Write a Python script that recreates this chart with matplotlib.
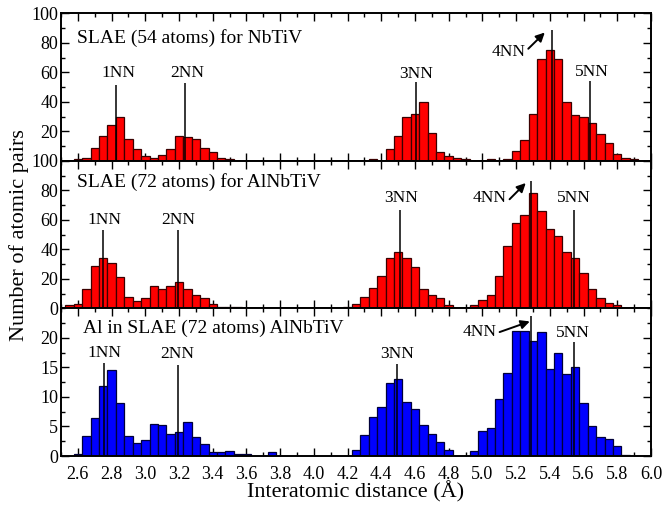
import numpy as np
import matplotlib
matplotlib.use('Agg')
import matplotlib.pyplot as plt
from matplotlib.ticker import MultipleLocator

plt.rcParams['font.family'] = 'serif'
plt.rcParams['font.serif'] = ['Liberation Serif', 'DejaVu Serif']

# bin centres of the histograms (0.05 A wide bins)
bin_centers = np.round(np.arange(2.55, 5.90 + 0.001, 0.05), 2)

# counts, one row per 0.5 A (2.55-3.00, 3.05-3.50, ... 5.55-5.90)
counts_nbtiv = [
    0, 1, 2, 9, 17, 24, 30, 15, 8, 3,
    2, 4, 8, 17, 16, 15, 9, 6, 2, 1,
    0, 0, 0, 0, 0, 0, 0, 0, 0, 0,
    0, 0, 0, 0, 0, 0, 1, 0, 8, 17,
    30, 32, 40, 19, 6, 3, 2, 1, 0, 0,
    1, 0, 1, 7, 14, 32, 69, 75, 69, 40,
    31, 30, 26, 18, 12, 5, 2, 1,
]
counts_alnbtiv = [
    2, 3, 13, 29, 34, 31, 21, 8, 5, 7,
    15, 13, 15, 18, 13, 9, 7, 3, 1, 1,
    1, 0, 0, 0, 0, 0, 0, 0, 0, 0,
    0, 0, 0, 1, 3, 8, 14, 22, 34, 38,
    34, 28, 13, 9, 7, 2, 0, 0, 2, 6,
    9, 22, 42, 58, 63, 78, 66, 54, 49, 38,
    34, 24, 13, 7, 4, 2, 0, 0,
]
counts_al = [
    0, 0.3, 3.4, 6.4, 11.9, 14.5, 9.0, 3.4, 2.2, 2.7,
    5.5, 5.2, 3.8, 4.1, 5.8, 3.3, 2.1, 0.6, 0.7, 0.8,
    0.4, 0.4, 0, 0, 0.6, 0, 0, 0, 0, 0,
    0, 0, 0, 0, 1.0, 3.6, 6.6, 8.3, 12.3, 13.0,
    9.2, 8.0, 5.3, 3.8, 2.4, 1.1, 0, 0, 0.9, 4.3,
    4.7, 9.7, 14.1, 21.2, 21.1, 19.5, 21.0, 14.8, 17.4, 13.9,
    15.0, 9.0, 5.0, 3.3, 2.8, 1.7, 0.2, 0,
]

nn_names = ['1NN', '2NN', '3NN', '4NN', '5NN']
nn_x_nbtiv = [2.824, 3.236, 4.605, 5.41, 5.64]
nn_top_nbtiv = [51.5, 52.6, 53.7, 89, 54]
nn_x_alnbtiv = [2.75, 3.194, 4.511, 5.29, 5.541]
nn_top_alnbtiv = [53, 53.4, 67, 86.7, 67]
nn_x_al = [2.754, 3.192, 4.495, 5.29, 5.541]
nn_top_al = [15.7, 15.5, 15.6, 23.8, 19.4]

titles = ['SLAE (54 atoms) for NbTiV',
          'SLAE (72 atoms) for AlNbTiV',
          'Al in SLAE (72 atoms) AlNbTiV']

fig = plt.figure(figsize=(6.64, 5.13), dpi=100)
gs = fig.add_gridspec(3, 1, left=0.0919, right=0.9804, bottom=0.1111,
                      top=0.974, hspace=0)
ax1 = fig.add_subplot(gs[0])
ax2 = fig.add_subplot(gs[1], sharex=ax1)
ax3 = fig.add_subplot(gs[2], sharex=ax1)

panels = [
    (ax1, counts_nbtiv, '#ff0000', '#3a0000', nn_x_nbtiv, nn_top_nbtiv),
    (ax2, counts_alnbtiv, '#ff0000', '#3a0000', nn_x_alnbtiv, nn_top_alnbtiv),
    (ax3, counts_al, '#0000ff', '#00003a', nn_x_al, nn_top_al),
]

for ax, counts, fc, ec, nx, ntop in panels:
    c = np.array(counts, dtype=float)
    keep = c > 0
    ax.bar(bin_centers[keep], c[keep], width=0.05, color=fc,
           edgecolor=ec, linewidth=0.9, zorder=2)
    ax.vlines(nx, 0, ntop, color='k', lw=1.1, zorder=3)
    ax.tick_params(which='both', direction='in', top=True, right=True,
                   labelsize=13, width=1.0)
    ax.tick_params(which='major', length=5.5)
    ax.tick_params(which='minor', length=3)
    ax.tick_params(axis='y', pad=2)
    for s in ax.spines.values():
        s.set_linewidth(1.4)

ax1.set_xlim(2.5, 6.0)
ax3.xaxis.set_minor_locator(MultipleLocator(0.1))
ax3.set_xticks(np.round(np.arange(2.6, 6.01, 0.2), 1))
ax3.set_xticklabels(['%.1f' % v for v in np.arange(2.6, 6.01, 0.2)])
ax3.tick_params(axis='x', pad=7)
plt.setp(ax1.get_xticklabels(), visible=False)
plt.setp(ax2.get_xticklabels(), visible=False)

ax1.set_ylim(0, 100)
ax1.set_yticks([20, 40, 60, 80, 100])
ax1.yaxis.set_minor_locator(MultipleLocator(10))
ax2.set_ylim(0, 100)
ax2.set_yticks([0, 20, 40, 60, 80, 100])
ax2.yaxis.set_minor_locator(MultipleLocator(10))
ax3.set_ylim(0, 25)
ax3.set_yticks([0, 5, 10, 15, 20])
ax3.yaxis.set_minor_locator(MultipleLocator(2.5))

# panel titles
ax1.text(0.0266, 0.836, titles[0], transform=ax1.transAxes, fontsize=14,
         va='center', ha='left')
ax2.text(0.0266, 0.858, titles[1], transform=ax2.transAxes, fontsize=14,
         va='center', ha='left')
ax3.text(0.0368, 0.866, titles[2], transform=ax3.transAxes, fontsize=14,
         va='center', ha='left')

# NN labels
lab_nbtiv = [(2.84, 59.8), (3.25, 59.8), (4.605, 58.9), (5.153, 74), (5.65, 60.5)]
lab_alnbtiv = [(2.757, 60), (3.196, 60), (4.519, 74.8), (5.042, 74.8), (5.543, 74.8)]
lab_al = [(2.76, 17.5), (3.19, 17.2), (4.495, 17.3), (4.983, 21), (5.535, 20.8)]
for ax, labs in [(ax1, lab_nbtiv), (ax2, lab_alnbtiv), (ax3, lab_al)]:
    for name, (lx, ly) in zip(nn_names, labs):
        ax.text(lx, ly, name, fontsize=12.5, ha='center', va='center')

arrows = [(ax1, (5.272, 76), (5.37, 87)),
          (ax2, (5.161, 74), (5.257, 85)),
          (ax3, (5.102, 21), (5.281, 22.8))]
for ax, start, end in arrows:
    ax.annotate('', xy=end, xytext=start,
                arrowprops=dict(arrowstyle='-|>', color='k', lw=1.4,
                                mutation_scale=13, shrinkA=0, shrinkB=0))

fig.text(0.535, 0.041, 'Interatomic distance (Å)', fontsize=16,
         ha='center', va='center')
fig.text(0.028, 0.542, 'Number of atomic pairs', fontsize=16,
         rotation=90, ha='center', va='center')

plt.savefig('out.png', dpi=100)
